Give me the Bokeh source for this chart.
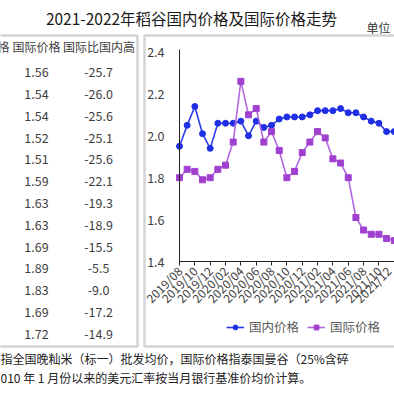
from math import pi
from bokeh.plotting import figure
from bokeh.models import (Range1d, FixedTicker, Label, BoxAnnotation, Legend,
                          LegendItem, NumeralTickFormatter)
from bokeh.embed import file_html
from bokeh.resources import INLINE

# ---------------- data ----------------
months = ["2019/08", "2019/09", "2019/10", "2019/11", "2019/12", "2020/01",
          "2020/02", "2020/03", "2020/04", "2020/05", "2020/06", "2020/07",
          "2020/08", "2020/09", "2020/10", "2020/11", "2020/12", "2021/01",
          "2021/02", "2021/03", "2021/04", "2021/05", "2021/06", "2021/07",
          "2021/08", "2021/09", "2021/10", "2021/11", "2021/12"]
domestic = [1.95, 2.05, 2.14, 2.01, 1.94, 2.06, 2.06, 2.06, 2.07, 2.00,
            2.07, 2.04, 2.05, 2.08, 2.09, 2.09, 2.09, 2.10, 2.12, 2.12,
            2.12, 2.13, 2.11, 2.11, 2.09, 2.07, 2.06, 2.02, 2.02]
international = [1.80, 1.84, 1.83, 1.79, 1.80, 1.84, 1.86, 1.97, 2.26, 2.10,
                 2.13, 1.97, 2.02, 1.93, 1.80, 1.83, 1.92, 1.97, 2.02, 1.99,
                 1.89, 1.87, 1.80, 1.61, 1.55, 1.53, 1.53, 1.51, 1.50]
y_ticks = [1.4, 1.6, 1.8, 2.0, 2.2, 2.4]

table_header = ["国内价格", "国际价格", "国际比国内高"]
table_intl = ["1.56", "1.54", "1.54", "1.52", "1.51", "1.59", "1.63",
              "1.63", "1.69", "1.89", "1.83", "1.69", "1.72"]
table_diff = ["-25.7", "-26.0", "-25.6", "-25.1", "-25.6", "-22.1", "-19.3",
              "-18.9", "-15.5", "-5.5", "-9.0", "-17.2", "-14.9"]

title_text = "2021-2022年稻谷国内价格及国际价格走势"
unit_text = "单位"
note_lines = ["指全国晚籼米（标一）批发均价，国际价格指泰国曼谷（25%含碎",
              "010 年 1 月份以来的美元汇率按当月银行基准价均价计算。"]

# ---------------- layout constants (pixels) ----------------
SIZE = 394
CJK = "Noto Sans CJK SC"
BORDER = "#d4d4d4"
PLOT_LEFT, PLOT_TOP, PLOT_BOTTOM = 179.0, 51.5, 261.0
STEP = 7.67                      # pixels per month
Y0, Y1 = y_ticks[0], y_ticks[-1]
PX_PER_UNIT = (PLOT_BOTTOM - PLOT_TOP) / (Y1 - Y0)

x_range = Range1d(-PLOT_LEFT / STEP, (SIZE - PLOT_LEFT) / STEP)
y_range = Range1d(Y0 - (SIZE - PLOT_BOTTOM) / PX_PER_UNIT,
                  Y1 + PLOT_TOP / PX_PER_UNIT)


def dx(cx):
    return (cx - PLOT_LEFT) / STEP


def dy(cy):
    return Y1 + (PLOT_TOP - cy) / PX_PER_UNIT


p = figure(width=SIZE, height=SIZE, output_backend="svg",
           toolbar_location=None, x_range=x_range, y_range=y_range,
           min_border=0, min_border_left=0, min_border_right=0,
           min_border_top=0, min_border_bottom=0,
           background_fill_color="white", border_fill_color="white")
p.grid.visible = False
p.outline_line_color = None

xs = list(range(len(months)))

# axes drawn at fixed data positions inside the canvas
p.xaxis.fixed_location = Y0
p.xaxis.bounds = (0, x_range.end)
p.xaxis.ticker = FixedTicker(ticks=list(range(0, len(months), 2)))
p.xaxis.major_label_overrides = {i: months[i] for i in range(0, len(months), 2)}
p.xaxis.major_label_orientation = pi / 4
p.xaxis.major_tick_out = 4
p.xaxis.major_tick_in = 0
p.xaxis.minor_tick_line_color = None
p.xaxis.axis_line_color = "#222222"
p.xaxis.major_tick_line_color = "#222222"
p.xaxis.major_label_text_font = CJK
p.xaxis.major_label_text_font_size = "12px"
p.xaxis.major_label_text_color = "#404040"
p.xaxis.major_label_standoff = 3

p.yaxis.fixed_location = 0
p.yaxis.bounds = (Y0, Y1 + 0.01)
p.yaxis.ticker = FixedTicker(ticks=y_ticks)
p.yaxis.formatter = NumeralTickFormatter(format="0.0")
p.yaxis.major_tick_line_color = None
p.yaxis.minor_tick_line_color = None
p.yaxis.axis_line_color = "#222222"
p.yaxis.major_label_text_font = CJK
p.yaxis.major_label_text_font_size = "12.5px"
p.yaxis.major_label_text_color = "#404040"
p.yaxis.major_label_standoff = 9

# panel frames (table panel and chart panel)
for l, r in [(-10, 137), (144, 420)]:
    p.add_layout(BoxAnnotation(left=dx(l), right=dx(r), top=dy(35),
                               bottom=dy(346), fill_color=None, fill_alpha=0,
                               line_color=BORDER, line_alpha=1.0,
                               line_width=2.5))

# series
dl = p.line(xs, domestic, line_color="#2b3be8", line_width=1.6)
ds = p.scatter(xs, domestic, marker="circle", size=6, fill_color="#1f2fe6",
               line_color="#1f2fe6")
il = p.line(xs, international, line_color="#b266e0", line_width=1.6)
isc = p.scatter(xs, international, marker="square", size=6,
                fill_color="#a040d0", line_color="#a040d0")

legend = Legend(items=[LegendItem(label="国内价格", renderers=[dl, ds]),
                       LegendItem(label="国际价格", renderers=[il, isc])],
                orientation="horizontal", location=(226, 58),
                label_text_font=CJK, label_text_font_size="12.5px",
                label_text_color="#595959", glyph_width=18, glyph_height=12,
                spacing=8, padding=0, margin=0, border_line_color=None,
                background_fill_alpha=0, label_standoff=5)
p.add_layout(legend)


def txt(x, y, s, size, color="#333333", align="center"):
    p.add_layout(Label(x=x, y=y, x_units="canvas", y_units="canvas", text=s,
                       text_font=CJK, text_font_size=size, text_color=color,
                       text_align=align, text_baseline="middle"))


txt(191, 17, title_text, "15.5px", "#1a1a1a")
txt(366, 27, unit_text, "12px", "#333333", align="left")

# table
txt(9, 46, table_header[0], "12px", "#404040", align="right")
txt(36, 46, table_header[1], "12px", "#404040")
txt(98.5, 46, table_header[2], "12px", "#404040")
for i, (a, b) in enumerate(zip(table_intl, table_diff)):
    y = 71.6 + 21.8 * i
    txt(36, y, a, "12.5px", "#404040")
    txt(98, y, b, "12.5px", "#404040")

# footnote
txt(0, 358, note_lines[0], "12px", "#222222", align="left")
txt(0, 377, note_lines[1], "12px", "#222222", align="left")

open("out.html", "w").write(file_html(p, INLINE))
